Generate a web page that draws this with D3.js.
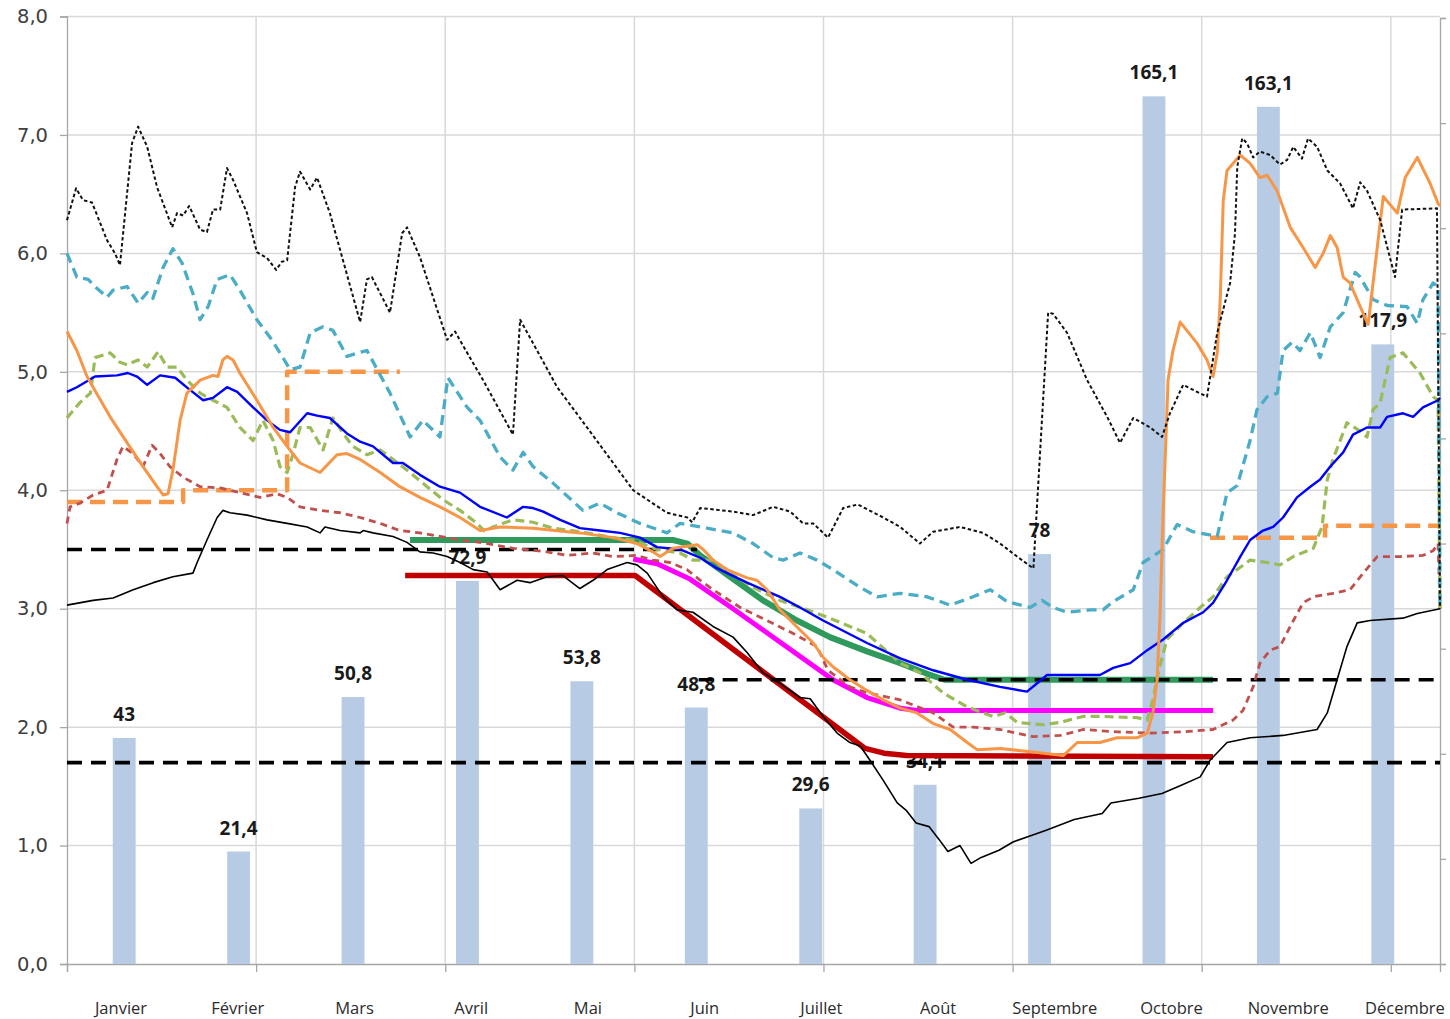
<!DOCTYPE html>
<html>
<head>
<meta charset="utf-8">
<title>Chart</title>
<script src="https://d3js.org/d3.v7.min.js"></script>
<style>
  body { margin: 0; background: #fff; }
  svg { display: block; }
</style>
</head>
<body>
<svg id="chart"></svg>
<script>
// ---- data (day index 0..363, value) ----
const months = ["Janvier", "Février", "Mars", "Avril", "Mai", "Juin", "Juillet", "Août", "Septembre", "Octobre", "Novembre", "Décembre"];
const barValues = [43, 21.4, 50.8, 72.9, 53.8, 48.8, 29.6, 34.1, 78, 165.1, 163.1, 117.9];
const yTicks = [0, 1, 2, 3, 4, 5, 6, 7, 8];
const dayTicks = [0, 50, 100, 150, 200, 250, 300, 350];
const rightTicks = [0, 20, 40, 60, 80, 100, 120, 140, 160, 180];

const blackDotted = [[0,6.28],[2.4,6.55],[4.2,6.45],[6.6,6.43],[10.6,6.11],[12.7,6.0],[14,5.9],[17.2,6.93],[18.8,7.07],[21.2,6.9],[23.8,6.56],[27.8,6.22],[29.1,6.34],[30.7,6.32],[32.3,6.4],[35.2,6.2],[37,6.18],[38.6,6.37],[40.5,6.37],[42.3,6.72],[43.9,6.62],[47.6,6.34],[50.2,6.01],[52.9,5.96],[55.3,5.86],[56.8,5.93],[58.2,5.94],[60.3,6.56],[61.6,6.69],[64.3,6.54],[66.1,6.64],[69.5,6.34],[77.5,5.42],[79.3,5.78],[80.6,5.8],[85.4,5.5],[88.6,6.17],[89.9,6.22],[93.3,5.97],[100.5,5.27],[102.6,5.34],[105.8,5.16],[110,4.93],[117.9,4.47],[119.8,5.44],[129.6,4.87],[137.5,4.53],[149.7,4.0],[158.6,3.81],[164,3.77],[165.3,3.73],[167.4,3.85],[176.1,3.82],[181.4,3.79],[186.7,3.86],[191.2,3.82],[194.6,3.72],[197.3,3.72],[201.2,3.6],[205.2,3.85],[209.1,3.88],[215.8,3.77],[220.3,3.69],[225.5,3.55],[229,3.65],[236.1,3.69],[242.2,3.64],[246.7,3.55],[251.2,3.44],[255.5,3.34],[259.4,5.5],[260.7,5.49],[264.4,5.33],[269.7,4.93],[275,4.62],[278.4,4.4],[281.9,4.61],[286.4,4.53],[289.5,4.45],[291.6,4.65],[295.1,4.89],[298.8,4.83],[301.4,4.79],[304.1,5.33],[307.5,5.75],[308.8,6.17],[309.4,6.73],[310.7,6.97],[312,6.93],[313.6,6.81],[315.4,6.86],[318.1,6.83],[320.7,6.75],[322.6,6.79],[324.2,6.9],[326.5,6.8],[328.1,6.97],[330.5,6.9],[333.2,6.7],[336.6,6.59],[340,6.38],[341.9,6.6],[343.7,6.53],[347.2,6.28],[351.1,5.8],[353,6.37],[362.2,6.38],[363,3.0]];

const cyanDashed = [[0,6.0],[2.6,5.8],[5.6,5.78],[7.4,5.72],[10.6,5.63],[12.2,5.69],[15.9,5.72],[18.8,5.58],[21.2,5.67],[22.7,5.62],[25.4,5.88],[28,6.04],[30.4,5.92],[33.3,5.66],[35.2,5.44],[37.3,5.55],[39.7,5.78],[43.1,5.82],[45.7,5.69],[50.2,5.44],[53.7,5.29],[56.3,5.16],[59,5.02],[61.6,5.04],[64.3,5.33],[67.7,5.38],[70.3,5.35],[74,5.13],[76.9,5.16],[79.3,5.18],[85.4,4.82],[90.7,4.45],[94.1,4.59],[98.6,4.45],[100.7,4.95],[105.8,4.7],[109.2,4.59],[114.5,4.28],[117.9,4.17],[120.6,4.32],[123.2,4.2],[128.5,4.06],[136.4,3.83],[140.9,3.89],[145.4,3.81],[151.5,3.72],[158.6,3.64],[162.1,3.72],[169.2,3.68],[176.1,3.64],[181.4,3.55],[186.7,3.43],[189.3,3.41],[193.8,3.47],[198.3,3.41],[202.5,3.33],[209.7,3.18],[214.2,3.1],[220.3,3.13],[227.4,3.1],[233.5,3.03],[239.5,3.1],[244.1,3.16],[248.5,3.06],[254.6,3.01],[257.8,3.07],[260.7,3.01],[264.4,2.97],[270.5,2.99],[273.9,2.99],[276.6,3.06],[281.9,3.16],[284.5,3.39],[289.8,3.5],[293.5,3.71],[297.7,3.65],[304.1,3.61],[306.7,3.98],[309.4,4.04],[312.8,4.42],[314.6,4.68],[317.3,4.79],[320,4.82],[321.5,5.18],[323.9,5.25],[326,5.18],[328.7,5.33],[331.3,5.12],[334,5.38],[337.4,5.5],[340.6,5.84],[341.9,5.8],[345.3,5.61],[349,5.56],[354.3,5.55],[357,5.41],[358.5,5.61],[361.2,5.75],[362.5,5.72],[363,3.0]];

const blueSolid = [[0,4.83],[2.6,4.87],[7.4,4.96],[13.2,4.97],[16.1,4.99],[18.5,4.96],[21.2,4.89],[24.6,4.97],[28.6,4.95],[32,4.86],[36,4.76],[38.6,4.78],[42.3,4.87],[45,4.83],[49.2,4.7],[52.9,4.59],[56.3,4.51],[59,4.49],[63.5,4.65],[66.1,4.63],[69.5,4.61],[74,4.48],[77.5,4.41],[80.9,4.37],[86.2,4.23],[88.8,4.23],[93.3,4.13],[98.6,4.03],[103.9,3.98],[109.2,3.86],[116.3,3.77],[117.7,3.8],[120.6,3.86],[123.2,3.85],[125.9,3.82],[130.4,3.75],[135.6,3.68],[140.9,3.66],[146.2,3.64],[151.5,3.6],[156,3.52],[162.1,3.5],[167.4,3.43],[171.9,3.34],[179.8,3.22],[188.5,3.1],[193.8,3.01],[199.9,2.9],[211.5,2.71],[220.3,2.58],[229,2.48],[238,2.4],[246.7,2.34],[253.8,2.3],[256.5,2.37],[259.1,2.44],[273.1,2.44],[276.6,2.5],[281.1,2.54],[285.6,2.65],[289.8,2.74],[295.1,2.88],[300.4,2.97],[303,3.05],[306.7,3.24],[310.2,3.44],[312.8,3.58],[316.2,3.66],[318.9,3.69],[321.5,3.77],[325.2,3.94],[328.7,4.03],[331.3,4.09],[334,4.2],[337.4,4.32],[340,4.47],[343.7,4.53],[347.2,4.53],[349,4.62],[353.2,4.65],[355.9,4.62],[358.5,4.7],[362.5,4.76],[363,4.78]];

const greenDashed = [[0,4.61],[3.4,4.74],[6.2,4.82],[7.4,5.12],[11.4,5.16],[14,5.08],[15.9,5.06],[18.8,5.1],[21.2,5.04],[24.1,5.17],[26.4,5.04],[29.1,5.04],[31.7,4.93],[35.2,4.82],[38.6,4.76],[42.3,4.7],[45.7,4.53],[49.2,4.42],[51.8,4.59],[54.5,4.42],[56.3,4.2],[58.2,4.15],[59.8,4.31],[61.6,4.53],[64.3,4.53],[67.7,4.34],[70.3,4.61],[73,4.48],[75.6,4.37],[79.3,4.3],[82.8,4.34],[86.2,4.26],[90.7,4.15],[95.2,4.03],[99.4,3.92],[103.9,3.83],[108.4,3.72],[110.5,3.65],[112.6,3.69],[117.9,3.75],[123.2,3.73],[128.5,3.68],[135.6,3.65],[144.4,3.6],[149.7,3.58],[156,3.5],[162.1,3.47],[165.5,3.41],[170.8,3.41],[175.3,3.3],[181.4,3.18],[188.5,3.07],[195.7,2.99],[200.9,2.93],[211.5,2.79],[220.3,2.54],[225.5,2.46],[231.6,2.29],[238,2.17],[244.8,2.09],[248,2.12],[251.2,2.04],[258.1,2.02],[262.6,2.04],[268.6,2.09],[273.9,2.09],[282.9,2.08],[285.6,2.06],[287.1,2.23],[288.5,2.46],[290.8,2.74],[295.1,2.88],[299.6,3.01],[303,3.1],[306.7,3.27],[310.2,3.35],[312.8,3.41],[317.3,3.39],[320.7,3.37],[324.2,3.44],[329.5,3.51],[331.8,3.69],[333.2,4.09],[334.7,4.26],[338.4,4.57],[341.9,4.5],[343.7,4.45],[345.3,4.68],[347.2,4.74],[349.8,5.12],[353.2,5.16],[357.7,4.99],[361.2,4.79],[362.5,4.76],[363,3.0]];

const orangeSolid = [[0,5.34],[2.6,5.18],[5.3,4.96],[6.9,4.87],[11.4,4.62],[15.9,4.4],[20.1,4.2],[23.8,4.03],[25.4,3.96],[26.7,3.97],[28,4.17],[29.9,4.59],[31.7,4.82],[35.2,4.93],[38.6,4.97],[39.9,4.96],[41.2,5.1],[42.3,5.13],[43.9,5.1],[45.7,4.99],[50.2,4.76],[54.5,4.53],[58.2,4.37],[61.6,4.23],[66.9,4.15],[71.4,4.3],[74,4.31],[77.5,4.26],[82.8,4.15],[88,4.03],[93.3,3.94],[98.6,3.86],[103.9,3.77],[109.2,3.66],[114.5,3.69],[123.2,3.68],[135.6,3.64],[144.4,3.6],[150.7,3.55],[154.9,3.48],[156.8,3.44],[160.2,3.51],[166.6,3.54],[168.2,3.5],[170.8,3.41],[174.5,3.33],[179.8,3.26],[182.4,3.24],[185.1,3.16],[188.5,2.99],[193.8,2.82],[197.3,2.71],[199.9,2.59],[202.5,2.51],[207,2.4],[211.5,2.31],[215.8,2.23],[220.3,2.16],[224.7,2.12],[229,2.03],[233.5,1.98],[238,1.87],[240.6,1.81],[246.7,1.82],[255.4,1.79],[263.4,1.76],[267.1,1.87],[273.1,1.87],[277.6,1.91],[282.9,1.91],[285.6,1.95],[287.1,2.12],[288.2,2.4],[289,2.96],[289.8,3.81],[290.8,4.65],[291.1,4.93],[292.4,5.18],[294.3,5.42],[298.8,5.24],[301.4,5.1],[303,4.96],[304.1,5.16],[304.9,5.61],[305.7,6.45],[306.7,6.7],[310.2,6.83],[312.8,6.76],[315.4,6.64],[317.3,6.66],[319.9,6.53],[323.4,6.22],[326.8,6.05],[330,5.88],[332.1,6.0],[334,6.15],[335.8,6.05],[337.4,5.8],[339.2,5.75],[341.9,5.55],[344,5.4],[345.3,5.75],[348,6.48],[351.7,6.34],[353.8,6.64],[357,6.81],[360.4,6.59],[362.5,6.42],[363,6.4]];

const redDashed = [[0,3.72],[0.8,3.86],[3.4,3.89],[6.9,3.96],[10.6,4.0],[13.2,4.26],[14.8,4.37],[17.5,4.31],[20.1,4.2],[22.5,4.38],[24.6,4.31],[27.2,4.2],[30.7,4.11],[35.2,4.03],[40.5,4.02],[45.7,3.98],[51,3.94],[55.5,3.97],[58.2,3.94],[61.6,3.86],[66.9,3.83],[72.2,3.81],[77.5,3.77],[82.8,3.72],[88,3.66],[93.3,3.64],[98.6,3.61],[103.9,3.58],[109.2,3.56],[118,3.51],[126.9,3.48],[132.2,3.45],[139.1,3.47],[144.4,3.44],[150.7,3.45],[154.9,3.41],[159.4,3.39],[163.9,3.33],[167.4,3.24],[170.8,3.16],[178,3.01],[185.1,2.9],[192,2.79],[198.3,2.68],[201.2,2.48],[207,2.34],[211.5,2.29],[220.3,2.23],[229,2.12],[234.3,2.0],[239.5,2.0],[246.7,1.98],[255.4,1.92],[262.6,1.93],[268.6,1.98],[277.6,1.96],[286.4,1.95],[295.1,1.96],[303,1.98],[308.3,2.06],[310.9,2.14],[313.6,2.34],[315.4,2.54],[318.1,2.65],[320.7,2.68],[323.4,2.85],[326.8,3.05],[329.5,3.1],[334.7,3.13],[339.2,3.16],[342.7,3.3],[346.4,3.44],[352.5,3.44],[358.5,3.45],[361.2,3.49],[362.5,3.55],[363,3.0]];

const blackSolid = [[0,3.03],[6.9,3.07],[12.2,3.09],[17.5,3.16],[22.8,3.22],[28,3.27],[33.3,3.3],[34.4,3.39],[37,3.58],[39.7,3.77],[41.2,3.83],[43.1,3.81],[47.6,3.79],[52.9,3.75],[58.2,3.72],[63.5,3.69],[66.9,3.64],[68.2,3.69],[72.2,3.66],[77.5,3.64],[78.3,3.66],[80.9,3.64],[86.2,3.61],[89.9,3.56],[93.3,3.48],[96.8,3.47],[100.5,3.44],[103.9,3.39],[107.4,3.33],[111.1,3.31],[114.5,3.16],[119,3.24],[122.4,3.22],[126.9,3.27],[131.1,3.28],[135.6,3.17],[139.1,3.24],[142.8,3.33],[148.1,3.39],[150.7,3.37],[153.4,3.3],[157.6,3.1],[161.3,2.99],[165.5,2.97],[170.8,2.85],[176.1,2.76],[179.8,2.63],[184,2.46],[188.5,2.37],[193.8,2.25],[196.5,2.24],[199.9,2.09],[203.6,1.95],[207,1.87],[209.7,1.84],[212.3,1.72],[215.8,1.55],[219.5,1.36],[221.8,1.3],[224.5,1.19],[227.9,1.16],[230.6,1.05],[232.9,0.95],[236.1,1.0],[239,0.85],[241.7,0.9],[246.4,0.96],[250.1,1.03],[258.9,1.13],[266.3,1.22],[273.7,1.27],[276,1.36],[283.4,1.4],[289.5,1.44],[294.6,1.51],[299.6,1.58],[302.2,1.72],[306.7,1.87],[312.8,1.91],[321.5,1.93],[330.5,1.98],[333.2,2.12],[335.8,2.4],[338.4,2.68],[341.1,2.88],[344.5,2.9],[353.2,2.92],[357,2.96],[363,3.0]];

// threshold curves
const orangeThreshold = [[0,3.9],[30.7,3.9],[30.7,4.0],[58.2,4.0],[58.2,5.0],[88,5.0],[88,null],[302.2,null],[302.2,3.6],[332.6,3.6],[332.6,3.7],[362.5,3.7]];
const blackThresholdA = [[0,3.5],[166.6,3.5]];
const blackThresholdB = [[167,2.4],[363,2.4]];
const blackThresholdC = [[0,1.7],[363,1.7]];
const greenThick = [[90.7,3.58],[160.2,3.58],[164,3.55],[167.4,3.45],[175.3,3.27],[184,3.07],[193,2.9],[201.7,2.76],[211.5,2.64],[220.3,2.54],[227.4,2.45],[232,2.4],[303,2.4]];
const magentaThick = [[149.7,3.42],[156,3.38],[164.7,3.25],[176.1,3.0],[189.3,2.7],[202.5,2.4],[211.5,2.25],[220.3,2.16],[224.7,2.14],[303,2.14]];
const redThick = [[89.4,3.28],[150.2,3.28],[211,1.82],[216,1.78],[222,1.76],[303,1.75]];

// ---- layout ----
const W = 1450, H = 1019;
const plotLeft = 67, plotRight = 1440, plotTop = 16.5, plotBottom = 964;

const svg = d3.select("#chart").attr("width", W).attr("height", H);

const x = d3.scaleLinear().domain([0, 363]).range([plotLeft, plotRight]);
const y = d3.scaleLinear().domain([0, 8]).range([plotBottom, plotTop]);
const yR = d3.scaleLinear().domain([0, 180]).range([plotBottom, 18]);
const xb = d3.scaleBand().domain(months).range([plotLeft, plotRight]);
const xLab = d3.scalePoint().domain(months).range([121, 1405]);

const comma = v => String(v).replace(".", ",");

// gridlines
svg.append("g").selectAll("line").data(yTicks.slice(1)).join("line")
  .attr("x1", plotLeft).attr("x2", plotRight)
  .attr("y1", d => y(d)).attr("y2", d => y(d))
  .attr("stroke", "#d9d9d9").attr("stroke-width", 1.5);
svg.append("g").selectAll("line").data(dayTicks.slice(1)).join("line")
  .attr("x1", d => x(d)).attr("x2", d => x(d))
  .attr("y1", plotTop).attr("y2", plotBottom)
  .attr("stroke", "#d9d9d9").attr("stroke-width", 1.5);

// axes
const yAxis = svg.append("g").attr("transform", "translate(" + plotLeft + ",0)")
  .call(d3.axisLeft(y).tickValues(yTicks).tickSize(7).tickPadding(12).tickFormat(d => comma(d3.format(".1f")(d))));
yAxis.selectAll("path, line").attr("stroke", "#a6a6a6").attr("stroke-width", 1.3);
yAxis.selectAll("text").attr("font-family", "DejaVu Sans").attr("font-size", 19.5).attr("fill", "#404040");

const xAxis = svg.append("g").attr("transform", "translate(0," + plotBottom + ")")
  .call(d3.axisBottom(x).tickValues(dayTicks).tickSize(8).tickFormat(""));
xAxis.selectAll("path, line").attr("stroke", "#a6a6a6").attr("stroke-width", 1.3);

const rAxis = svg.append("g").attr("transform", "translate(" + plotRight + ",0)")
  .call(d3.axisRight(yR).tickValues(rightTicks).tickSize(6).tickFormat(""));
rAxis.selectAll("path, line").attr("stroke", "#a6a6a6").attr("stroke-width", 1.3);

// month labels
svg.append("g").selectAll("text").data(months).join("text")
  .attr("x", d => xLab(d)).attr("y", 1014)
  .attr("text-anchor", "middle")
  .attr("font-family", "Open Sans").attr("font-size", 16.5)
  .attr("fill", "#2b2b2b").text(d => d);

// bars
const bw = xb.bandwidth() * 0.2;
svg.append("g").selectAll("rect").data(barValues).join("rect")
  .attr("x", (d, i) => xb(months[i]) + xb.bandwidth() / 2 - bw / 2)
  .attr("width", bw)
  .attr("y", d => yR(d))
  .attr("height", d => plotBottom - yR(d))
  .attr("fill", "#b7cce4");

svg.append("g").selectAll("text").data(barValues).join("text")
  .attr("x", (d, i) => xb(months[i]) + xb.bandwidth() / 2)
  .attr("y", d => yR(d) - 17)
  .attr("text-anchor", "middle")
  .attr("font-family", "Open Sans").attr("font-weight", 700).attr("font-size", 19)
  .attr("fill", "#1a1a1a").text(d => comma(d));

// lines
const line = d3.line().defined(d => d[1] != null).x(d => x(d[0])).y(d => y(d[1]));
function drawLine(data, color, width, dash) {
  svg.append("path").datum(data)
    .attr("fill", "none").attr("stroke", color).attr("stroke-width", width)
    .attr("stroke-dasharray", dash || null)
    .attr("stroke-linejoin", "round")
    .attr("d", line);
}

drawLine(greenThick, "#2f9a5c", 6);
drawLine(magentaThick, "#ff00ff", 5);
drawLine(redThick, "#c00000", 5.5);
drawLine(orangeThreshold, "#f79646", 4.5, "15,8");
drawLine(blackThresholdA, "#000", 3.6, "15,9");
drawLine(blackThresholdB, "#000", 3.6, "15,9");
drawLine(blackThresholdC, "#000", 3.6, "15,9");

drawLine(redDashed, "#c0504d", 2.8, "7,5");
drawLine(greenDashed, "#9bbb59", 3.2, "9,5");
drawLine(cyanDashed, "#4bacc6", 3.3, "10,6");
drawLine(blueSolid, "#0000ff", 2.4);
drawLine(orangeSolid, "#f79646", 3);
drawLine(blackDotted, "#111", 2, "3.5,2.5");
drawLine(blackSolid, "#000", 1.6);
</script>
</body>
</html>
